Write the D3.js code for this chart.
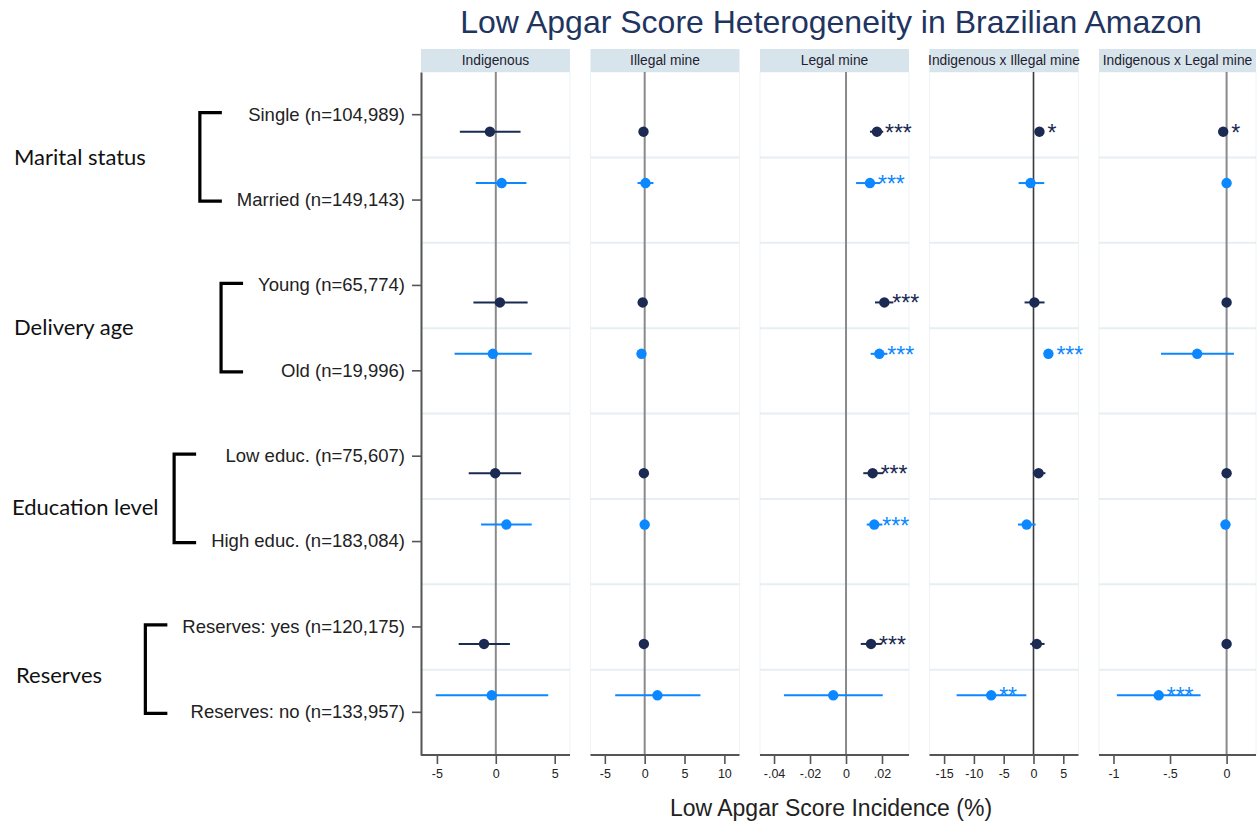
<!DOCTYPE html>
<html>
<head>
<meta charset="utf-8">
<script src="https://cdn.jsdelivr.net/npm/d3@7"></script>
<style>
  body { margin: 0; background: #fff; }
  svg { display: block; }
</style>
</head>
<body>
<svg id="chart" width="1257" height="824"></svg>
<script>
// ---- data ---------------------------------------------------------------
const panelTitles = ["Indigenous", "Illegal mine", "Legal mine",
                     "Indigenous x Illegal mine", "Indigenous x Legal mine"];
const rowLabels = ["Single (n=104,989)", "Married (n=149,143)",
                   "Young (n=65,774)", "Old (n=19,996)",
                   "Low educ. (n=75,607)", "High educ. (n=183,084)",
                   "Reserves: yes (n=120,175)", "Reserves: no (n=133,957)"];
const groupLabels = ["Marital status", "Delivery age", "Education level", "Reserves"];

// point estimates with 95% confidence bounds, one entry per row
const indigenousEst = [-0.5, 0.5, 0.35, -0.25, -0.05, 0.9, -1.0, -0.35];
const indigenousLo  = [-3.05, -1.7, -1.9, -3.5, -2.3, -1.25, -3.15, -5.1];
const indigenousHi  = [2.1, 2.6, 2.7, 3.05, 2.15, 3.05, 1.2, 4.45];
const indigenousStars = ["", "", "", "", "", "", "", ""];

const illegalEst = [-0.15, 0.1, -0.25, -0.4, -0.1, 0.0, -0.1, 1.6];
const illegalLo  = [-0.45, -0.9, -0.5, -0.65, -0.35, -0.25, -0.35, -3.7];
const illegalHi  = [0.15, 1.1, 0.0, -0.15, 0.15, 0.25, 0.15, 7.0];
const illegalStars = ["", "", "", "", "", "", "", ""];

const legalEst = [0.0172, 0.0133, 0.0213, 0.0185, 0.0148, 0.0157, 0.0139, -0.0071];
const legalLo  = [0.0133, 0.0056, 0.0161, 0.0137, 0.0096, 0.0115, 0.0082, -0.0345];
const legalHi  = [0.0207, 0.0190, 0.0263, 0.0230, 0.0207, 0.0202, 0.0198, 0.0204];
const legalStars = ["***", "***", "***", "***", "***", "***", "***", ""];

const indIllegalEst = [1.0, -0.5, 0.15, 2.5, 0.85, -1.15, 0.55, -7.1];
const indIllegalLo  = [0.3, -2.5, -1.5, 2.0, -0.1, -2.6, -0.55, -12.9];
const indIllegalHi  = [1.7, 1.8, 1.85, 3.0, 2.0, 0.35, 1.85, -1.2];
const indIllegalStars = ["*", "", "", "***", "", "", "", "**"];

const indLegalEst = [-0.03, 0.0, 0.0, -0.26, 0.0, -0.01, 0.0, -0.6];
const indLegalLo  = [-0.06, -0.02, -0.02, -0.58, -0.02, -0.03, -0.02, -0.97];
const indLegalHi  = [0.0, 0.02, 0.02, 0.065, 0.02, 0.01, 0.02, -0.23];
const indLegalStars = ["*", "", "", "", "", "", "", "***"];

// axis ticks for each panel
const ticksIndigenous = [-5, 0, 5];
const tickLabelsIndigenous = ["-5", "0", "5"];
const ticksIllegal = [-5, 0, 5, 10];
const tickLabelsIllegal = ["-5", "0", "5", "10"];
const ticksLegal = [-0.04, -0.02, 0, 0.02];
const tickLabelsLegal = ["-.04", "-.02", "0", ".02"];
const ticksIndIllegal = [-15, -10, -5, 0, 5];
const tickLabelsIndIllegal = ["-15", "-10", "-5", "0", "5"];
const ticksIndLegal = [-1, -0.5, 0];
const tickLabelsIndLegal = ["-1", "-.5", "0"];

// ---- panel table ---------------------------------------------------------
const panels = [
  { est: indigenousEst, lo: indigenousLo, hi: indigenousHi, stars: indigenousStars,
    ticks: ticksIndigenous, tickLabels: tickLabelsIndigenous, domain: [-6.35, 6.3] },
  { est: illegalEst, lo: illegalLo, hi: illegalHi, stars: illegalStars,
    ticks: ticksIllegal, tickLabels: tickLabelsIllegal, domain: [-6.8, 11.9] },
  { est: legalEst, lo: legalLo, hi: legalHi, stars: legalStars,
    ticks: ticksLegal, tickLabels: tickLabelsLegal, domain: [-0.0478, 0.035] },
  { est: indIllegalEst, lo: indIllegalLo, hi: indIllegalHi, stars: indIllegalStars,
    ticks: ticksIndIllegal, tickLabels: tickLabelsIndIllegal, domain: [-17.45, 7.55], zeroDark: true },
  { est: indLegalEst, lo: indLegalLo, hi: indLegalHi, stars: indLegalStars,
    ticks: ticksIndLegal, tickLabels: tickLabelsIndLegal, domain: [-1.128, 0.26] }
].map((p, i) => ({ ...p, title: panelTitles[i] }));

// ---- layout --------------------------------------------------------------
const svg = d3.select("#chart");
const plotTop = 72, plotBottom = 755;
const headerTop = 49;
const panelX0 = 421, panelStep = 169.5, panelW = 149;
const colorDark = "#1b2a52", colorBlue = "#0b87ff";
const sans = "Liberation Sans, Arial, sans-serif";
// hand placement of the group captions on the far left
const groupLabelX = [14, 14, 12, 16];
const groupLabelShift = [0, -1, 8, 6];

const y = d3.scaleBand().domain(rowLabels).range([plotTop, plotBottom]).padding(0);
const rowCenter = d => y(d) + y.bandwidth() / 2;
// markers sit pulled toward the middle of their two-row group
const markerY = i => rowCenter(rowLabels[i]) + (i % 2 === 0 ? 17 : -17);

// title
svg.append("text")
  .attr("x", 831).attr("y", 33)
  .attr("text-anchor", "middle")
  .attr("font-family", sans)
  .attr("font-size", 32)
  .attr("fill", "#1f3560")
  .text("Low Apgar Score Heterogeneity in Brazilian Amazon");

panels.forEach((p, pi) => {
  const left = panelX0 + pi * panelStep;
  const right = pi === panels.length - 1 ? 1256 : left + panelW;
  const x = d3.scaleLinear().domain(p.domain).range([left, right]);
  const g = svg.append("g");

  // panel background & faint frame
  g.append("rect")
    .attr("x", left).attr("y", plotTop)
    .attr("width", right - left).attr("height", plotBottom - plotTop)
    .attr("fill", "#fff").attr("stroke", "#eef3f6").attr("stroke-width", 1);

  // header strip
  g.append("rect")
    .attr("x", left).attr("y", headerTop)
    .attr("width", right - left).attr("height", plotTop - headerTop)
    .attr("fill", "#d8e4eb");
  g.append("text")
    .attr("x", (left + right) / 2).attr("y", 65)
    .attr("text-anchor", "middle")
    .attr("font-family", sans)
    .attr("font-size", 13.8)
    .attr("fill", "#1e1e30")
    .text(p.title);

  // horizontal separators between rows
  g.selectAll("line.sep")
    .data(rowLabels.slice(1))
    .join("line")
    .attr("class", "sep")
    .attr("x1", left).attr("x2", right)
    .attr("y1", d => y(d)).attr("y2", d => y(d))
    .attr("stroke", "#e7eef2").attr("stroke-width", 2);

  // zero reference line
  g.append("line")
    .attr("x1", x(0)).attr("x2", x(0))
    .attr("y1", plotTop).attr("y2", plotBottom)
    .attr("stroke", p.zeroDark ? "#3a3a3a" : "#8a8a8a")
    .attr("stroke-width", p.zeroDark ? 1.6 : 2);

  const rows = p.est.map((v, i) => ({ i, v, lo: p.lo[i], hi: p.hi[i], s: p.stars[i],
                                      color: i % 2 === 0 ? colorDark : colorBlue }));

  // confidence intervals
  g.selectAll("line.ci")
    .data(rows)
    .join("line")
    .attr("class", "ci")
    .attr("x1", d => x(d.lo)).attr("x2", d => x(d.hi))
    .attr("y1", d => markerY(d.i)).attr("y2", d => markerY(d.i))
    .attr("stroke", d => d.color).attr("stroke-width", 2);

  // point estimates
  g.selectAll("circle.pt")
    .data(rows)
    .join("circle")
    .attr("class", "pt")
    .attr("cx", d => x(d.v)).attr("cy", d => markerY(d.i))
    .attr("r", 5.2)
    .attr("fill", d => d.color);

  // significance stars
  g.selectAll("text.star")
    .data(rows.filter(d => d.s))
    .join("text")
    .attr("class", "star")
    .attr("x", d => x(d.v) + 8).attr("y", d => markerY(d.i) + 9)
    .attr("font-family", sans)
    .attr("font-size", 23)
    .attr("fill", d => d.color)
    .text(d => d.s);

  // x axis
  const ax = g.append("g")
    .attr("transform", `translate(0,${plotBottom})`)
    .call(d3.axisBottom(x)
      .tickValues(p.ticks)
      .tickFormat((d, k) => p.tickLabels[k])
      .tickSizeOuter(0)
      .tickSize(9)
      .tickPadding(5));
  ax.select(".domain").remove();
  ax.append("line")
    .attr("x1", left).attr("x2", right)
    .attr("stroke", "#555").attr("stroke-width", 2);
  ax.selectAll(".tick line").attr("stroke", "#555").attr("stroke-width", 1.6);
  ax.selectAll(".tick text")
    .attr("font-family", sans)
    .attr("font-size", 12.5)
    .attr("fill", "#222");
});

// y axis on the first panel
const yAxis = svg.append("g")
  .attr("transform", `translate(${panelX0},0)`)
  .call(d3.axisLeft(y).tickSize(9).tickSizeOuter(0).tickPadding(7));
yAxis.select(".domain").attr("stroke", "#555").attr("stroke-width", 2);
yAxis.selectAll(".tick line").attr("stroke", "#555").attr("stroke-width", 1.6);
yAxis.selectAll(".tick text")
  .attr("font-family", sans)
  .attr("font-size", 18.5)
  .attr("fill", "#222");

// group brackets and labels
const labelStart = {};
yAxis.selectAll(".tick").each(function(d) {
  const t = d3.select(this).select("text").node();
  labelStart[d] = panelX0 - 16 - t.getComputedTextLength();
});

groupLabels.forEach((name, gi) => {
  const a = rowLabels[gi * 2], b = rowLabels[gi * 2 + 1];
  const yTop = rowCenter(a) - 2, yBot = rowCenter(b) + 1;
  const armEnd = Math.min(labelStart[a], labelStart[b]) - 15;
  const vx = armEnd - 22;
  svg.append("path")
    .attr("d", `M${armEnd},${yTop}H${vx}V${yBot}H${armEnd}`)
    .attr("fill", "none").attr("stroke", "#000").attr("stroke-width", 3.2);
  svg.append("text")
    .attr("x", groupLabelX[gi]).attr("y", y(b) + groupLabelShift[gi])
    .attr("dy", "0.35em")
    .attr("font-family", "Lato, 'Open Sans', sans-serif")
    .attr("font-size", 22)
    .attr("fill", "#111")
    .text(name);
});

// x axis title
svg.append("text")
  .attr("x", 831).attr("y", 816)
  .attr("text-anchor", "middle")
  .attr("font-family", sans)
  .attr("font-size", 23)
  .attr("fill", "#222")
  .text("Low Apgar Score Incidence (%)");
</script>
</body>
</html>
